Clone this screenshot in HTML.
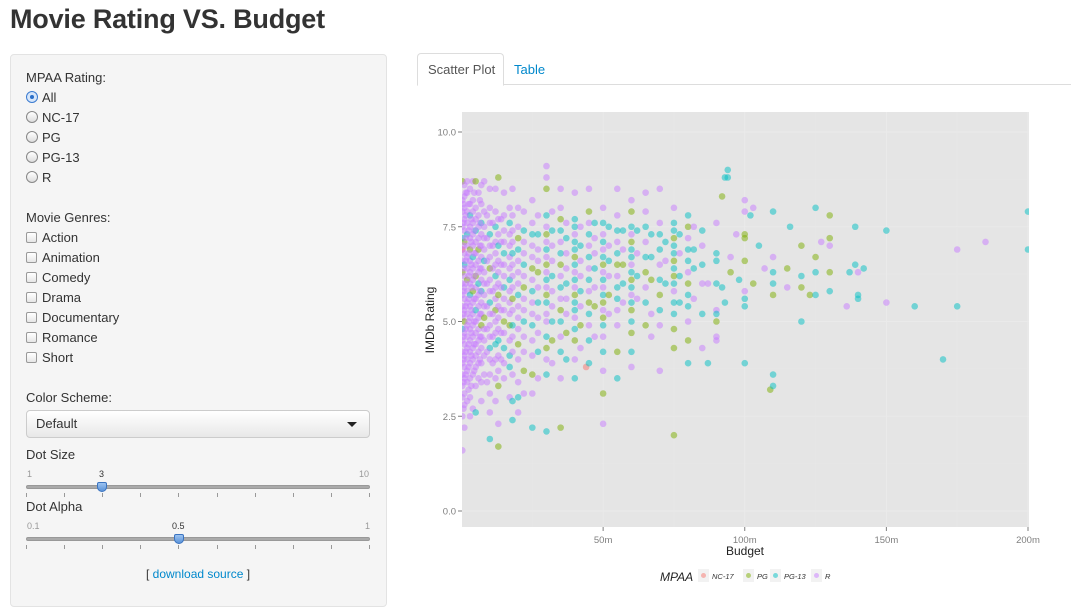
<!DOCTYPE html>
<html><head><meta charset="utf-8">
<style>
body{margin:0;width:1071px;height:615px;overflow:hidden;background:#fff;font-family:"Liberation Sans",Arial,sans-serif;color:#333;position:relative}
.abs{position:absolute}
h1{position:absolute;left:10px;top:4px;margin:0;font-size:27px;font-weight:bold;color:#333;letter-spacing:-0.2px}
.well{position:absolute;left:10px;top:54px;width:375px;height:551px;background:#f5f5f5;border:1px solid #e3e3e3;border-radius:4px}
.lbl{position:absolute;font-size:13px;color:#333}
.radio{position:absolute;width:12px;height:12px;border:1px solid #888;border-radius:50%;background:linear-gradient(#fff,#ddd);box-sizing:border-box}
.radio.on::after{content:"";position:absolute;left:3px;top:3px;width:4px;height:4px;border-radius:50%;background:#2a6fc9}
.radio.on{border-color:#3b7bd0;background:#d6e6fa}
.chk{position:absolute;width:11px;height:11px;border:1px solid #999;border-radius:2px;background:linear-gradient(#fff,#e6e6e6);box-sizing:border-box}
.sel{position:absolute;left:26px;top:410px;width:344px;height:28px;border:1px solid #ccc;border-radius:4px;background:linear-gradient(#fff,#e8e8e8);box-sizing:border-box;font-size:13px;line-height:26px;padding-left:9px}
.sel::after{content:"";position:absolute;right:12px;top:11px;border-left:5px solid transparent;border-right:5px solid transparent;border-top:5px solid #222}
.track{position:absolute;left:26px;width:344px;height:4px;border-radius:2px;background:#aaa;border:1px solid #999;box-sizing:border-box}
.tick{position:absolute;width:1px;height:4px;background:#999}
.handle{position:absolute;width:10px;height:10px;background:linear-gradient(#9cc3f0,#5b93d8);border:1px solid #3a73c0;border-radius:2px 2px 50% 50%;box-sizing:border-box}
.sl{position:absolute;font-size:9px;color:#999}
.tab{position:absolute;font-size:13px}
</style></head><body>
<h1>Movie Rating VS. Budget</h1>
<div class="well"></div>
<div class="lbl" style="left:26px;top:70px">MPAA Rating:</div>
<div class="radio on" style="left:26px;top:91px"></div><div class="lbl" style="left:42px;top:90px">All</div>
<div class="radio" style="left:26px;top:111px"></div><div class="lbl" style="left:42px;top:110px">NC-17</div>
<div class="radio" style="left:26px;top:131px"></div><div class="lbl" style="left:42px;top:130px">PG</div>
<div class="radio" style="left:26px;top:151px"></div><div class="lbl" style="left:42px;top:150px">PG-13</div>
<div class="radio" style="left:26px;top:171px"></div><div class="lbl" style="left:42px;top:170px">R</div>
<div class="lbl" style="left:26px;top:210px">Movie Genres:</div>
<div class="chk" style="left:26px;top:232px"></div><div class="lbl" style="left:42px;top:230px">Action</div>
<div class="chk" style="left:26px;top:252px"></div><div class="lbl" style="left:42px;top:250px">Animation</div>
<div class="chk" style="left:26px;top:272px"></div><div class="lbl" style="left:42px;top:270px">Comedy</div>
<div class="chk" style="left:26px;top:292px"></div><div class="lbl" style="left:42px;top:290px">Drama</div>
<div class="chk" style="left:26px;top:312px"></div><div class="lbl" style="left:42px;top:310px">Documentary</div>
<div class="chk" style="left:26px;top:332px"></div><div class="lbl" style="left:42px;top:330px">Romance</div>
<div class="chk" style="left:26px;top:352px"></div><div class="lbl" style="left:42px;top:350px">Short</div>
<div class="lbl" style="left:26px;top:390px">Color Scheme:</div>
<div class="sel">Default</div>
<div class="lbl" style="left:26px;top:447px">Dot Size</div>
<div class="sl" style="left:27px;top:469px">1</div>
<div class="sl" style="left:99px;top:469px;color:#333">3</div>
<div class="sl" style="left:359px;top:469px">10</div>
<div class="track" style="top:485px"></div>
<div class="handle" style="left:97px;top:482px"></div>
<div class="lbl" style="left:26px;top:499px">Dot Alpha</div>
<div class="sl" style="left:27px;top:521px">0.1</div>
<div class="sl" style="left:172px;top:521px;color:#333">0.5</div>
<div class="sl" style="left:365px;top:521px">1</div>
<div class="track" style="top:537px"></div>
<div class="handle" style="left:174px;top:534px"></div>
<div class="lbl" style="left:146px;top:567px;font-size:12px">[ <span style="color:#0088cc">download source</span> ]</div>

<div class="abs" style="left:417px;top:53px;width:85px;height:31px;border:1px solid #ddd;border-bottom:1px solid #fff;border-radius:4px 4px 0 0;background:#fff;z-index:2"></div>
<div class="tab" style="left:428px;top:62px;z-index:3;color:#555">Scatter Plot</div>
<div class="tab" style="left:514px;top:62px;color:#0088cc">Table</div>
<div class="abs" style="left:417px;top:84px;width:654px;height:1px;background:#ddd"></div>

<svg id="plot" class="abs" style="left:0;top:0" width="1071" height="615"></svg>
<script>
const budgetCols=[0.3,1,2,3,4,5,6,7,8,10,12,13,15,17,18,20,22,25,27,30,32,35,37,40,42,44,45,47,50,52,55,57,60,62,65,67,70,72,75,77,80,82,85,87,90,92,93,94,95,97,98,100,102,103,105,107,109,110,115,116,120,123,125,127,130,136,137,139,140,142,150,160,170,175,185,200,0.7,1.5,2.5,3.5,4.5,6.5,9,11,14];
const ratingsByCol=[
"8.7 8.2 7.9 7.5 7.2 6.9 6.6 6.3 6.0 5.7 5.4 5.1 4.8 4.5 4.2 3.9 3.6 3.3 3.0 2.5 1.6 6.9",
"8.6 8.3 8.0 7.7 7.4 7.1 6.8 6.5 6.2 5.9 5.6 5.3 5.0 4.7 4.4 4.1 3.8 3.5 3.1 2.8 2.2",
"8.7 8.4 7.9 7.6 7.3 7.0 6.7 6.4 6.1 5.8 5.5 5.2 4.9 4.6 4.3 4.0 3.7 3.4 2.9",
"8.5 8.1 7.8 7.5 7.2 6.9 6.6 6.3 6.0 5.7 5.4 5.1 4.8 4.5 4.2 3.9 3.5 3.0 2.5",
"8.7 8.2 7.9 7.6 7.3 7.0 6.7 6.4 6.1 5.8 5.5 5.2 4.9 4.6 4.3 4.0 3.6 2.7",
"8.7 8.0 7.7 7.4 7.1 6.8 6.5 6.2 5.9 5.6 5.3 5.0 4.7 4.4 4.1 3.8 3.3 2.6",
"8.4 7.8 7.5 7.2 6.9 6.6 6.3 6.0 5.7 5.4 5.1 4.8 4.5 4.2 3.9 3.5",
"8.6 8.1 7.6 7.3 7.0 6.7 6.4 6.1 5.8 5.5 5.2 4.9 4.6 4.3 3.9 3.4 2.9",
"8.7 7.9 7.5 7.2 6.9 6.6 6.3 6.0 5.7 5.4 5.1 4.8 4.5 4.1 3.6",
"8.5 8.0 7.6 7.3 7.0 6.7 6.4 6.1 5.8 5.5 5.2 4.9 4.6 4.3 4.0 3.6 3.1 2.6 1.9",
"8.5 7.9 7.5 7.1 6.8 6.5 6.2 5.9 5.6 5.3 5.0 4.7 4.4 4.0 3.5 2.9",
"8.8 7.7 7.3 7.0 6.6 6.3 6.0 5.7 5.4 5.1 4.8 4.5 4.1 3.7 3.3 2.3 1.7",
"8.4 7.8 7.4 7.1 6.8 6.5 6.2 5.9 5.6 5.3 5.0 4.7 4.3 3.9 3.5",
"8.0 7.6 7.3 7.0 6.7 6.4 6.1 5.8 5.5 5.2 4.9 4.5 4.1 3.8 3.0",
"8.5 7.8 7.4 7.1 6.8 6.5 6.2 5.9 5.6 5.3 4.9 4.6 4.2 3.6 2.9 2.4",
"8.0 7.5 7.2 6.9 6.6 6.3 6.0 5.7 5.4 5.1 4.8 4.4 4.0 3.4 3.0 2.6",
"7.9 7.4 7.1 6.8 6.5 6.2 5.9 5.6 5.3 5.0 4.6 4.2 3.7 3.1",
"8.2 7.6 7.3 7.0 6.7 6.4 6.1 5.8 5.5 5.2 4.9 4.5 4.1 3.6 3.1 2.2",
"7.8 7.3 6.9 6.6 6.3 5.9 5.5 5.1 4.7 4.2 3.5",
"9.1 8.8 8.5 7.8 7.5 7.3 7.1 6.9 6.7 6.5 6.3 6.1 5.9 5.7 5.5 5.2 5.0 4.6 4.3 4.0 3.6 2.1",
"7.9 7.4 7.0 6.6 6.2 5.8 5.4 5.0 4.5 3.9",
"8.5 8.0 7.7 7.4 7.1 6.8 6.5 6.2 5.9 5.6 5.3 5.0 4.6 4.2 3.5 2.2",
"7.6 7.2 6.8 6.4 6.0 5.6 5.2 4.7 4.0",
"8.4 7.7 7.5 7.3 7.1 6.9 6.7 6.5 6.3 6.1 5.9 5.7 5.5 5.3 5.1 4.8 4.5 4.0 3.5",
"7.5 7.0 6.6 6.2 5.8 5.4 4.9 4.3",
"3.8",
"8.5 7.9 7.6 7.3 7.0 6.7 6.4 6.1 5.8 5.5 5.2 4.9 4.5 3.9",
"7.6 7.2 6.8 6.4 5.9 5.4 4.6",
"8.0 7.6 7.3 7.1 6.9 6.7 6.5 6.3 6.1 5.9 5.7 5.5 5.3 5.1 4.9 4.6 4.2 3.7 3.1 2.3",
"7.5 7.0 6.6 6.2 5.7 5.2",
"8.5 7.8 7.4 7.1 6.8 6.5 6.2 5.9 5.6 5.3 4.9 4.2 3.5",
"7.4 6.9 6.5 6.0 5.5",
"8.2 7.9 7.5 7.3 7.1 6.9 6.7 6.5 6.3 6.1 5.9 5.7 5.5 5.3 5.0 4.7 4.2 3.8",
"7.4 6.8 6.2 5.6",
"8.4 7.9 7.5 7.1 6.7 6.3 5.9 5.5 4.9",
"7.3 6.7 6.1 5.2 4.6",
"8.5 7.6 7.3 6.9 6.5 6.1 5.7 5.3 4.9 3.7",
"7.1 6.6 6.0",
"8.0 7.6 7.4 7.2 7.0 6.8 6.6 6.4 6.2 6.0 5.8 5.5 5.2 4.8 4.3 2.0",
"7.3 6.8 6.2 5.5",
"7.8 7.5 7.2 6.9 6.6 6.3 6.0 5.7 5.4 5.0 4.5 3.9",
"7.5 6.9 6.4 5.6",
"7.4 7.0 6.5 6.0 5.2 4.3",
"6.0 3.9","7.6 6.8 6.6 6.0 5.3 5.2 5.0 4.6 4.5","8.3 5.9","8.8 5.5","9.0 8.8","6.7 6.3","7.3","6.1",
"8.2 7.9 7.3 7.2 6.6 5.8 5.6 5.4 3.9","7.8","8.0 6.0","7.0","6.4","3.2","7.9 6.7 6.3 6.0 5.7 3.6 3.3",
"6.4 5.9","7.5","7.0 6.2 5.9 5.0","5.7","8.0 6.7 6.3 5.7","7.1","7.8 7.2 7.0 6.3 5.8","5.4","6.3","7.5 6.5",
"6.3 5.7 5.6","6.4","7.4 5.5","5.4","4.0","6.9 5.4","7.1","7.9 6.9",
"8.1 7.6 7.0 6.4 5.8 5.2 4.6 4.0 3.4 2.7",
"8.4 7.8 7.2 6.6 6.0 5.4 4.8 4.2 3.6",
"8.1 7.4 6.8 6.2 5.6 5.0 4.4 3.8 3.2",
"7.7 7.1 6.5 5.9 5.3 4.7 4.1 3.3",
"8.4 7.4 6.8 6.2 5.6 5.0 4.4 3.7",
"8.2 7.6 7.0 6.4 5.8 5.2 4.6 4.0",
"7.8 7.2 6.6 6.0 5.4 4.8 4.2 3.4",
"7.6 7.0 6.4 5.8 5.2 4.6 3.9",
"7.7 7.1 6.5 5.9 5.3 4.7 4.0"];
const mpaaByCol=[
"PRRRTRRPRRRRTRRRRRRRRN","RRRRRPRTRRRRPRRRRRRRR","RRRRTRRRPRRRRRRRRRR","RRTRRPRRRTRRRRRRRRR","RRRRRRTRRPRRRRRRRR",
"PRRTRRRPRRTRRRRRRT","RRRRPRRTRRRRRRRR","RRTRRRRRTRRPRRRRR","RRRRRTRRRRPRRRR","RRRTRRPRRTRRRTRRRRT",
"RRTRRRTRRPRRTRRR","PRRTRRRPRRRTRRPRP","RRRRTRRTRRPRTRR","RTRRRRTRRRPRTTR","RRRRTRRRPRTRRRTT",
"RRPTRRRTRRRPRRTR","RTRRTRPRRTRRPR","RRTRRPRTRRTRRPRT","RTRRPRTRRTR","RRPTRPRTRPRTRPTRRTPRTT",
"RTRRTRRTPR","RRPTRTPRTRPTRTRP","RTRRTRRPT","RTTRTTPTRTRPTTRTPRT","RTRRTRPR","N","RPRTRTRTRPTRTT","TRRTRPR",
"RTRTRTPRTRTPRPTRTRPR","TRTRPR","RRTRTPRTTRRPT","TRPTR","RPTRPTTRTPTRTPTPTR","TRTR","RRTRTPRTP","TTPRR",
"RRTTRTPTRR","TRT","RTTPTTPTPTRTTPPP","TRTT","TPRTTRPTTRPT","RTTR","TRTRTR",
"RT","RTTTRTPRR","PT","TT","TT","RP","R","T","RRPPPRTTT","T","RP","T","R","P","TRTTPTT",
"PR","T","PTPT","P","TPTT","R","PPRPT","R","T","TT","RTT","T","TR","T","T","RT","R","TT",
"RRRRRRRRRR","RRRRRRRRR","RRRRRRRRR","RRRRRRRR","RRRRRRRR","RRRRRRRR","RRRRRRRR","RRRRRRR","RRRRRRR"];
const mpaaColors={N:"#F8766D",P:"#7CAE00",T:"#00BFC4",R:"#C77CFF"};
const yTicks=[0,2.5,5,7.5,10];
const yTickLabels=["0.0","2.5","5.0","7.5","10.0"];
const xTicks=[50,100,150,200];
const xTickLabels=["50m","100m","150m","200m"];
const legendLabels=["NC-17","PG","PG-13","R"];
const legendKeys=["N","P","T","R"];

const NS="http://www.w3.org/2000/svg";
const svg=document.getElementById('plot');
const PL=462,PR=1029,PT=112,PB=527;
const xS=b=>461.5+b*(566.5/200);
const yS=r=>511-r*37.9;
function mk(tag,at,parent){const e=document.createElementNS(NS,tag);for(const k in at)e.setAttribute(k,at[k]);(parent||svg).appendChild(e);return e;}
const defs=mk('defs',{});
const cp=mk('clipPath',{id:'pc'},defs);mk('rect',{x:PL,y:PT,width:PR-PL,height:PB-PT},cp);
const panel=mk('rect',{x:PL,y:PT,width:PR-PL,height:PB-PT,fill:'#e5e5e5'});


for(let i=0;i<yTicks.length;i++){
  const y=yS(yTicks[i]);
  if(i<yTicks.length-1){const m=yS(yTicks[i]+1.25);const ml=mk('line',{x1:PL,x2:PR,y1:m,y2:m,stroke:'#e8e8e8','stroke-width':0.5});
  
  }
  const gl=mk('line',{x1:PL,x2:PR,y1:y,y2:y,stroke:'#ebebeb','stroke-width':0.8});
  
  
  mk('line',{x1:PL-4,x2:PL,y1:y,y2:y,stroke:'#7f7f7f','stroke-width':1});
  const t=mk('text',{x:PL-6,y:y+3.5,'text-anchor':'end','font-size':9.5,fill:'#7f7f7f','font-family':'Liberation Sans'});t.textContent=yTickLabels[i];
  
  
}
[25,75,125,175].forEach(v=>{const x=xS(v);const ml=mk('line',{x1:x,x2:x,y1:PT,y2:PB,stroke:'#e8e8e8','stroke-width':0.5});
  
  });
for(let i=0;i<xTicks.length;i++){
  const x=xS(xTicks[i]);
  const gl=mk('line',{x1:x,x2:x,y1:PT,y2:PB,stroke:'#ebebeb','stroke-width':0.8});
  
  
  mk('line',{x1:x,x2:x,y1:PB,y2:PB+4,stroke:'#7f7f7f','stroke-width':1});
  const t=mk('text',{x:x,y:PB+16,'text-anchor':'middle','font-size':9.5,fill:'#7f7f7f','font-family':'Liberation Sans'});t.textContent=xTickLabels[i];
  
  
}
const g=mk('g',{'clip-path':'url(#pc)'});


for(let c=0;c<budgetCols.length;c++){
  const rs=ratingsByCol[c].split(' ').map(Number);const cl=mpaaByCol[c]||'';
  for(let i=0;i<rs.length;i++){
    const k=cl[i]||'R';
    const p=mk('circle',{cx:xS(budgetCols[c]),cy:yS(rs[i]),r:3.3,fill:mpaaColors[k],'fill-opacity':0.5},g);
    
    
  }
}
const xt=mk('text',{x:745,y:555,'text-anchor':'middle','font-size':12,fill:'#222','font-family':'Liberation Sans'});xt.textContent='Budget';


const yt=mk('text',{x:0,y:0,'text-anchor':'middle','font-size':12,fill:'#222','font-family':'Liberation Sans',transform:'translate(434,320) rotate(-90)'});yt.textContent='IMDb Rating';


const lt=mk('text',{x:660,y:581,'font-size':12,'font-style':'italic',fill:'#222','font-family':'Liberation Sans'});lt.textContent='MPAA';


const lx=[698,743,770,811];
for(let i=0;i<legendKeys.length;i++){
  const lg=mk('g',{});
  
  
  mk('rect',{x:lx[i],y:569,width:11,height:13,fill:'#f2f2f2'},lg);
  mk('circle',{cx:lx[i]+5.5,cy:575.5,r:2.5,fill:mpaaColors[legendKeys[i]],'fill-opacity':0.5},lg);
  const t=mk('text',{x:lx[i]+14,y:579,'font-size':7.5,'font-style':'italic',fill:'#333','font-family':'Liberation Sans'},lg);t.textContent=legendLabels[i];
}
[485,537].forEach(top=>{for(let i=0;i<10;i++){const d=document.createElement('div');d.className='tick';d.style.left=(26+i*343/9)+'px';d.style.top=(top+8)+'px';


document.body.appendChild(d);}});
</script>
</body></html>
